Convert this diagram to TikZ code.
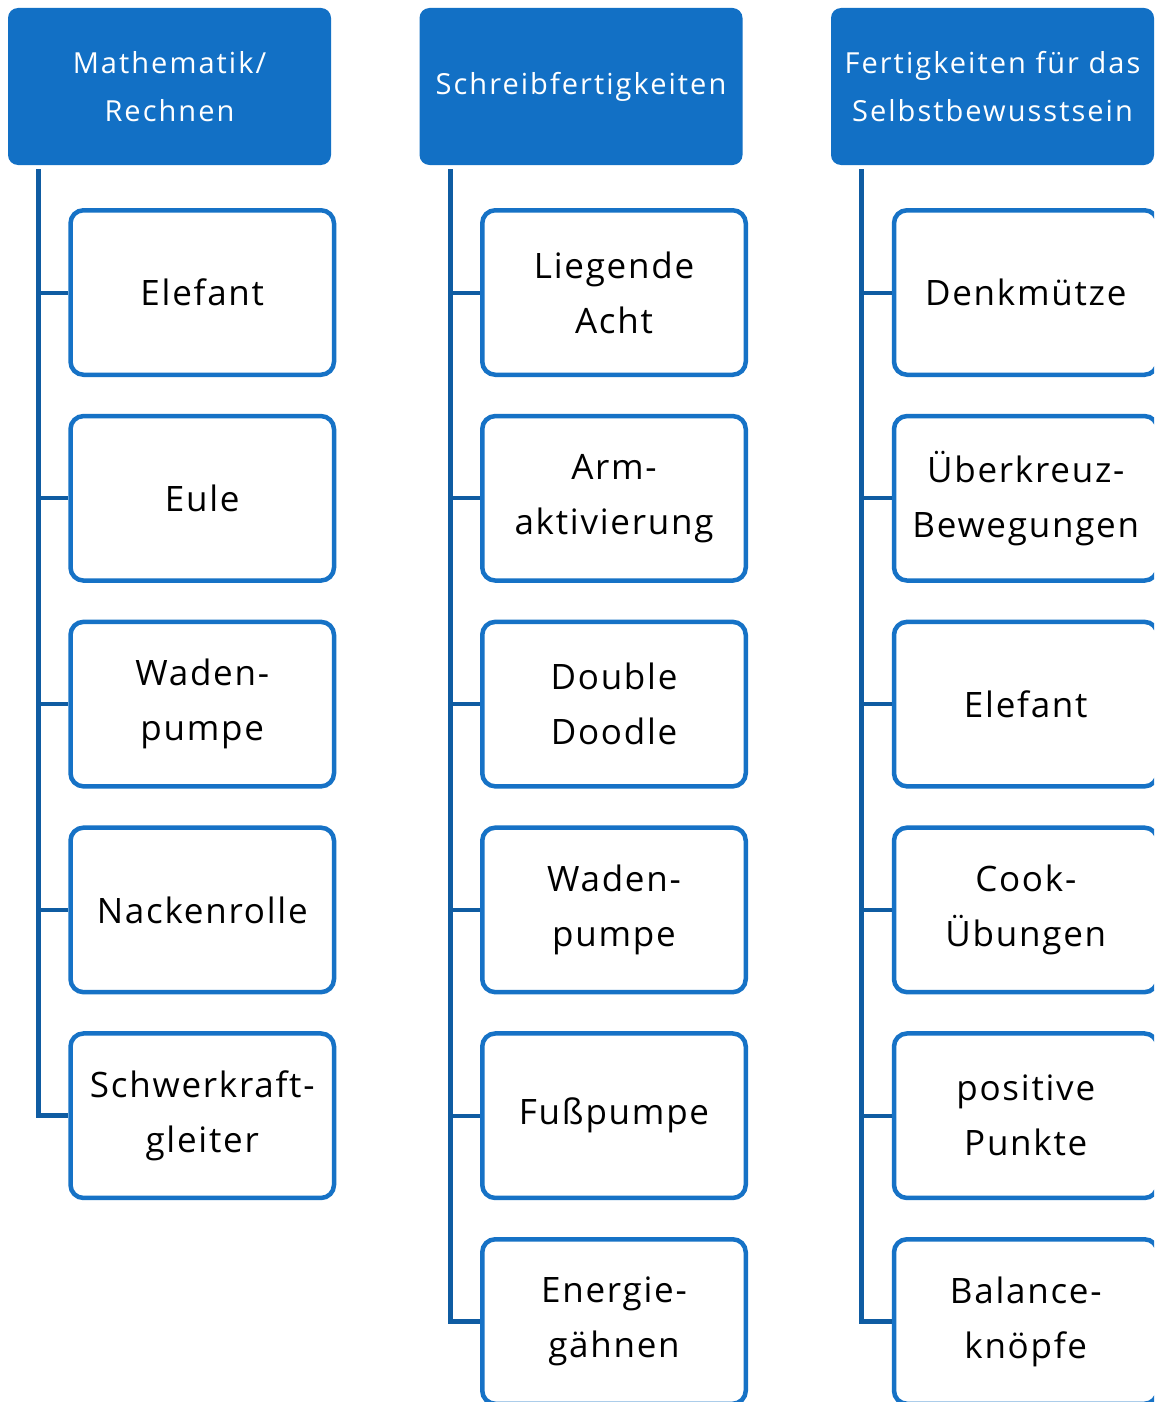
\documentclass[tikz,border=0pt]{standalone}
\usepackage{fontspec}
\setmainfont{Open Sans}[LetterSpace=5]
\newfontfamily\headfont{Open Sans}[LetterSpace=7]
\definecolor{headblue}{HTML}{1270C5}
\definecolor{boxblue}{HTML}{1672C6}
\definecolor{trunkblue}{HTML}{0F5CA2}
\tikzset{
  header/.style={fill=headblue, rounded corners=10pt, minimum width=323pt,
    minimum height=157pt, text=white, align=center,
    font=\headfont\fontsize{29}{48}\selectfont, inner sep=0pt},
  item/.style={draw=boxblue, line width=4.5pt, fill=white, rounded corners=13pt,
    minimum width=263.5pt, minimum height=164.5pt, align=center,
    font=\fontsize{35}{55}\selectfont, inner sep=0pt},
  trunk/.style={draw=trunkblue, line width=5pt, line join=miter},
  branch/.style={draw=trunkblue, line width=4pt},
}
\begin{document}
\begin{tikzpicture}[x=1pt,y=-1pt]
\clip (0,0) rectangle (1154,1402);
\fill[white] (0,0) rectangle (1154,1402);

% column headers
\node[header] (h1) at (169.5,86.5) {Mathematik/\\Rechnen};
\node[header] (h2) at (581,86.5) {Schreibfertigkeiten};
\node[header] (h3) at (992.5,86.5) {Fertigkeiten für das\\Selbstbewusstsein};

% trunk tops
\coordinate (t1) at (38,169);
\coordinate (t2) at (450,169);
\coordinate (t3) at (861,169);

% column 1 items
\node[item] (a1) at (202.25,292.5) {Elefant};
\node[item] (a2) at (202.25,498.3) {Eule};
\node[item] (a3) at (202.25,704.1) {Waden-\\pumpe};
\node[item] (a4) at (202.25,909.9) {Nackenrolle};
\node[item] (a5) at (202.25,1115.7) {Schwerkraft-\\gleiter};

% column 2 items
\node[item] (b1) at (614,292.5) {Liegende\\Acht};
\node[item] (b2) at (614,498.3) {Arm-\\aktivierung};
\node[item] (b3) at (614,704.1) {Double\\Doodle};
\node[item] (b4) at (614,909.9) {Waden-\\pumpe};
\node[item] (b5) at (614,1115.7) {Fußpumpe};
\node[item] (b6) at (614,1321.5) {Energie-\\gähnen};

% column 3 items
\node[item] (c1) at (1025.75,292.5) {Denkmütze};
\node[item] (c2) at (1025.75,498.3) {Überkreuz-\\Bewegungen};
\node[item] (c3) at (1025.75,704.1) {Elefant};
\node[item] (c4) at (1025.75,909.9) {Cook-\\Übungen};
\node[item] (c5) at (1025.75,1115.7) {positive\\Punkte};
\node[item] (c6) at (1025.75,1321.5) {Balance-\\knöpfe};

% trunks and branches
\draw[trunk] (t1) |- (a5.west);
\foreach \n in {a1,a2,a3,a4}
  \draw[branch] (t1 |- \n.west) -- (\n.west);

\draw[trunk] (t2) |- (b6.west);
\foreach \n in {b1,b2,b3,b4,b5}
  \draw[branch] (t2 |- \n.west) -- (\n.west);

\draw[trunk] (t3) |- (c6.west);
\foreach \n in {c1,c2,c3,c4,c5}
  \draw[branch] (t3 |- \n.west) -- (\n.west);
\end{tikzpicture}
\end{document}
